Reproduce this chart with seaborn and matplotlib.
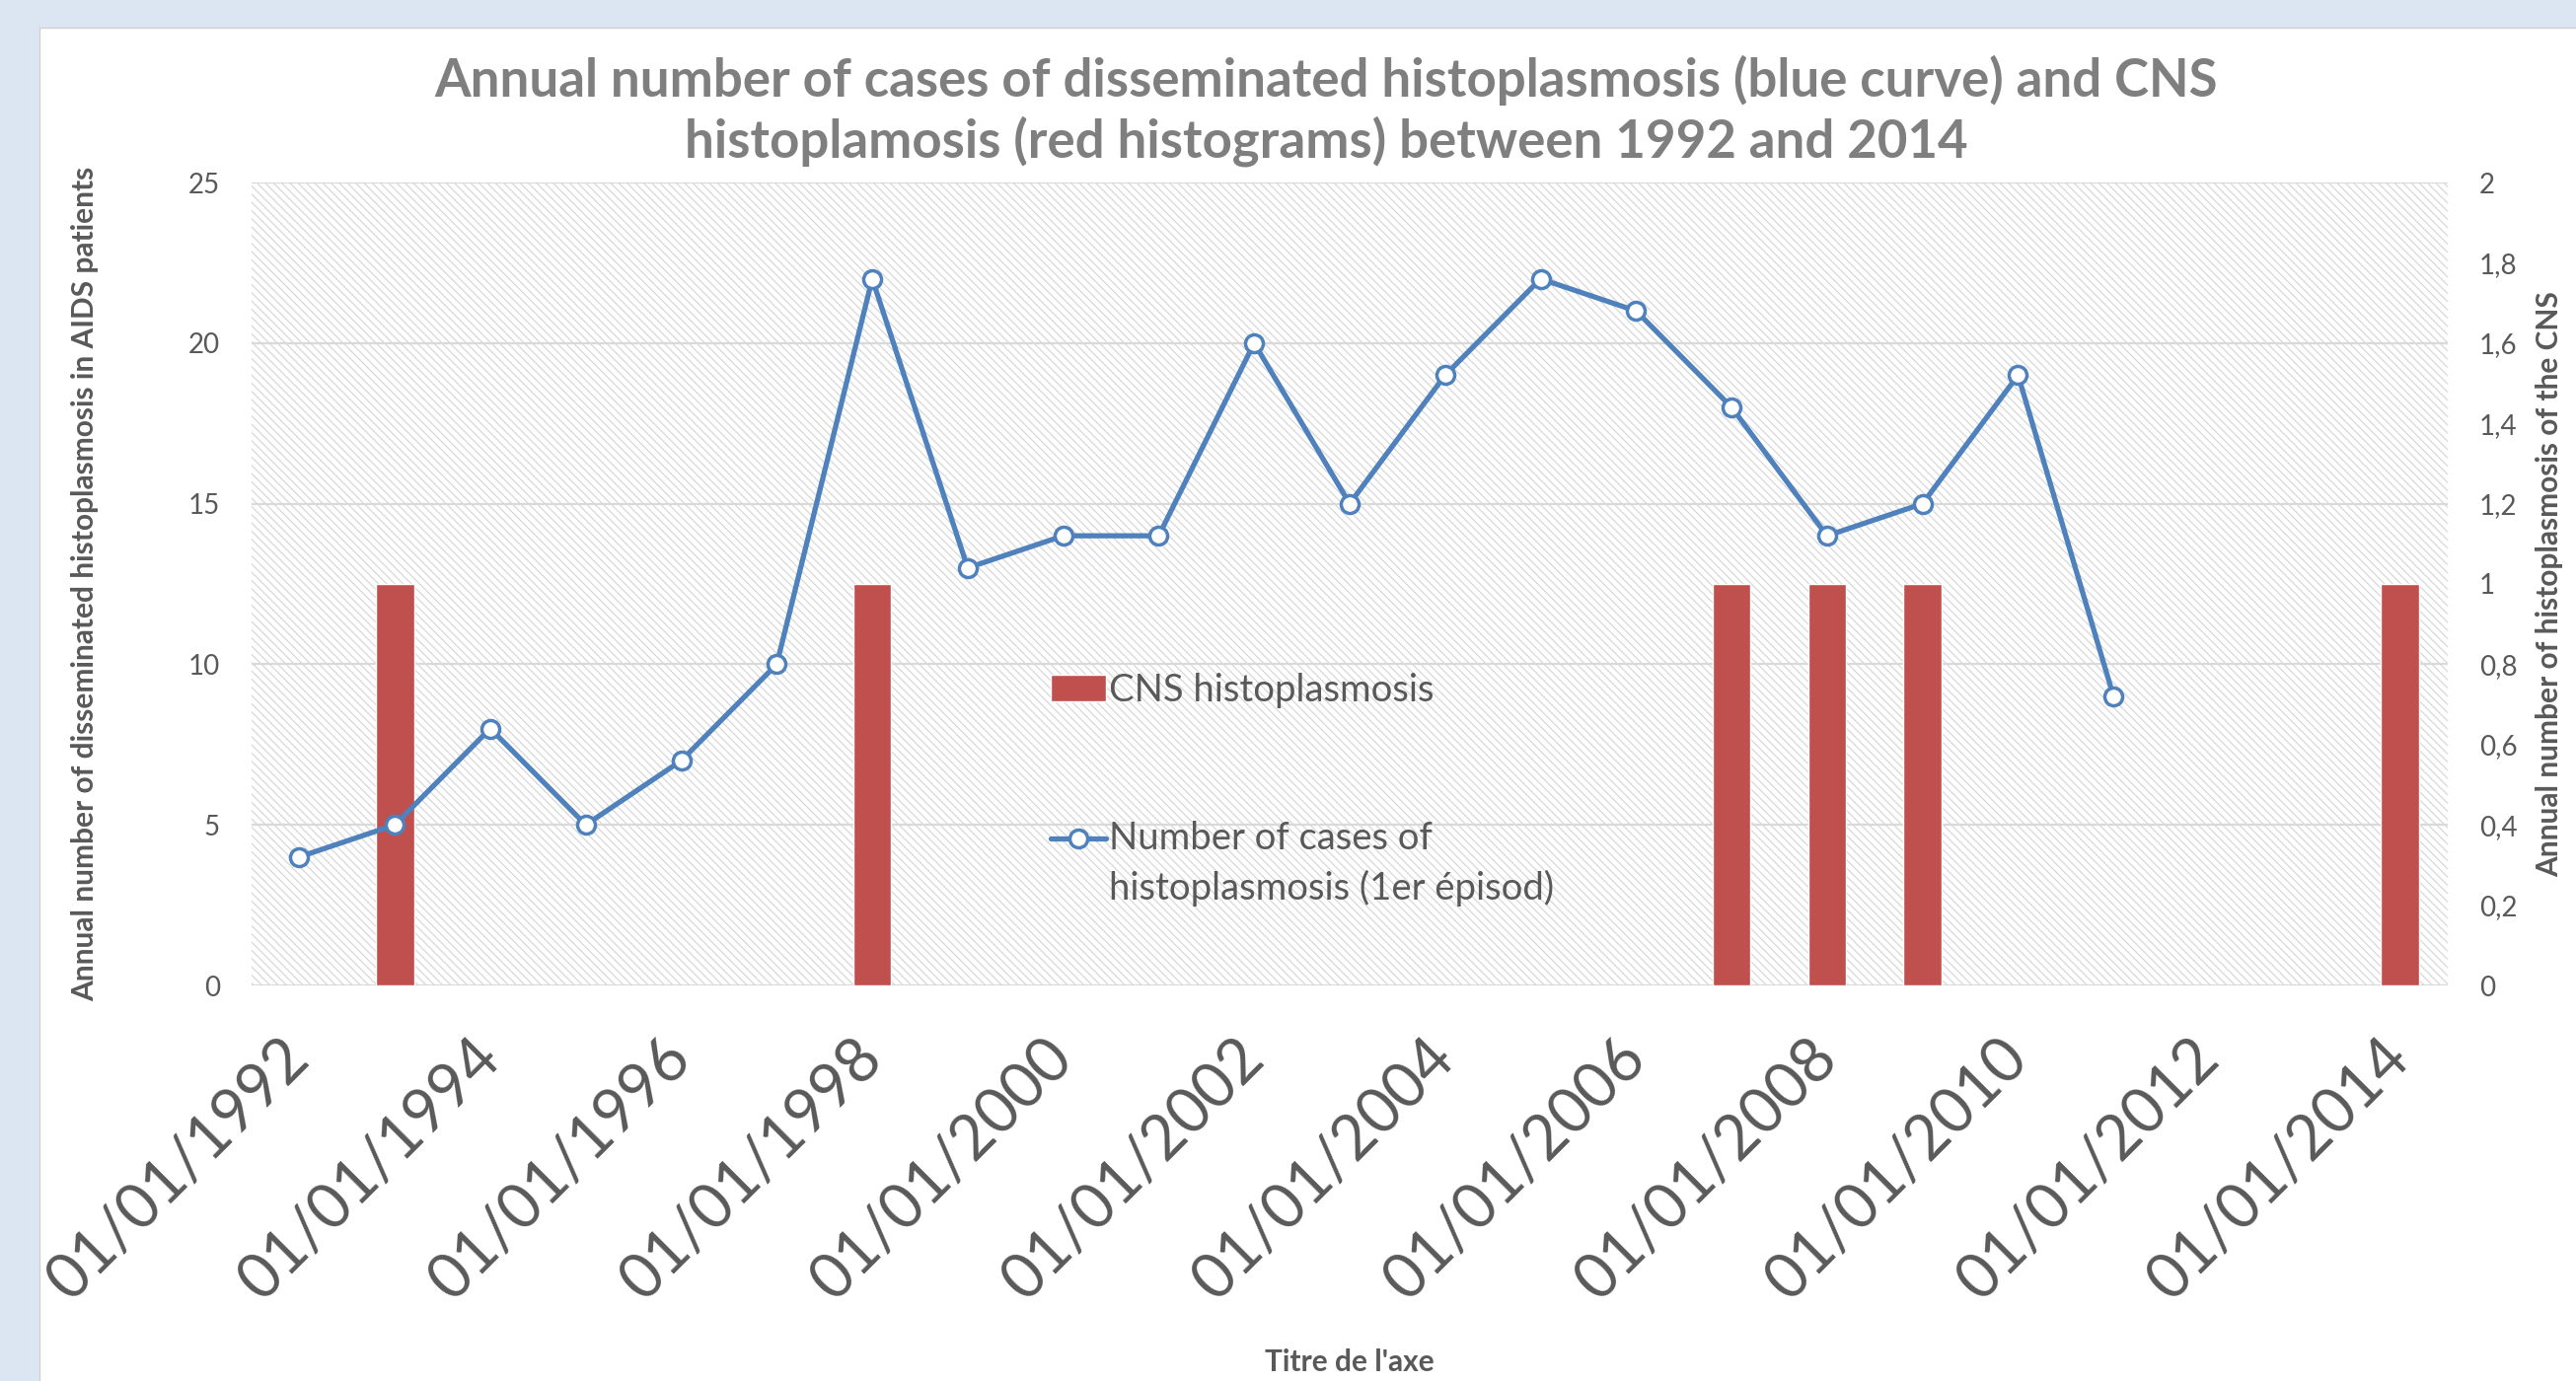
import matplotlib
matplotlib.use("Agg")
import matplotlib.pyplot as plt
from matplotlib.patches import Rectangle
from matplotlib.ticker import MultipleLocator, FuncFormatter
import numpy as np
import seaborn as sns

# values
case_years = list(range(1992, 2012))
cases = [4, 5, 8, 5, 7, 10, 22, 13, 14, 14, 20, 15, 19, 22, 21, 18, 14, 15, 19, 9]
cns_years = [1993, 1998, 2007, 2008, 2009, 2014]
cns_cases = [1, 1, 1, 1, 1, 1]
tick_years = list(range(1992, 2015, 2))
tick_labels = [f"01/01/{y}" for y in tick_years]

title = ("Annual number of cases of disseminated histoplasmosis (blue curve) and CNS\n"
         "histoplamosis (red histograms) between 1992 and 2014")
left_label = "Annual number of disseminated histoplasmosis in AIDS patients"
right_label = "Annual number of histoplasmosis of the CNS"
bottom_label = "Titre de l'axe"
cns_name = "CNS histoplasmosis"
cases_name = "Number of cases of\nhistoplasmosis (1er épisod)"

BLUE = "#4f81bd"
RED = "#c0504d"
TXT = "#595959"
GRID = "#d9d9d9"

sns.set_style("white")
plt.rcParams["font.family"] = ["Lato", "DejaVu Sans"]
plt.rcParams["hatch.color"] = "#d4d4d4"
plt.rcParams["hatch.linewidth"] = 0.8

W, H = 2611, 1400
fig = plt.figure(figsize=(W / 100, H / 100), dpi=100)
fig.patch.set_facecolor("#dce6f2")
fig.add_artist(Rectangle((40 / W, -0.01), 1.0, 1 - 28 / H + 0.01, transform=fig.transFigure,
                         facecolor="white", edgecolor="#d0d0d0", lw=1, zorder=-10))

ax_bar = fig.add_axes([255 / W, 1 - 999 / H, (2481 - 255) / W, (999 - 185) / H])
ax_bar.patch.set_facecolor("white")
ax_bar.patch.set_hatch("\\" * 4)
ax_bar.patch.set_edgecolor("#d4d4d4")
ax_bar.patch.set_linewidth(0)

# red histograms (right axis)
sns.barplot(x=cns_years, y=cns_cases, native_scale=True, width=0.4, color=RED,
            saturation=1, errorbar=None, ax=ax_bar, label=cns_name, zorder=3)

# blue curve (left axis), drawn on the twin so it sits above the bars
ax_line = ax_bar.twinx()
sns.lineplot(x=case_years, y=cases, ax=ax_line, color=BLUE, lw=3.8, marker="o",
             markersize=13, markerfacecolor="white", markeredgecolor=BLUE,
             markeredgewidth=2.5, label=cases_name)

for a in (ax_bar, ax_line):
    if a.get_legend() is not None:
        a.get_legend().remove()
    for s in a.spines.values():
        s.set_visible(False)

# axis sides: line axis on the left, bar axis on the right
ax_line.yaxis.tick_left()
ax_line.yaxis.set_label_position("left")
ax_bar.yaxis.tick_right()
ax_bar.yaxis.set_label_position("right")

ax_bar.set_xlim(1991.5, 2014.5)
ax_line.set_ylim(0, 25)
ax_line.set_yticks(range(0, 26, 5))
ax_bar.set_ylim(0, 2)
ax_bar.yaxis.set_major_locator(MultipleLocator(0.2))
ax_bar.yaxis.set_major_formatter(FuncFormatter(lambda v, _: f"{round(v, 1):g}".replace(".", ",")))

# gridlines follow the left axis steps (every 0.4 on the right axis)
ax_bar.yaxis.remove_overlapping_locs = False
ax_bar.yaxis.set_minor_locator(MultipleLocator(0.4))
ax_bar.grid(False, which="major")
ax_bar.grid(True, which="minor", axis="y", color=GRID, lw=1.6)
ax_bar.set_axisbelow(True)
ax_line.grid(False)

ax_bar.tick_params(axis="y", which="both", length=0, labelsize=20, labelcolor=TXT, pad=23)
ax_line.tick_params(axis="y", length=0, labelsize=20, labelcolor=TXT, pad=23)

ax_bar.set_xticks(tick_years, tick_labels, rotation=45, ha="right", va="center",
                  rotation_mode="anchor", fontsize=45, color=TXT)
ax_bar.tick_params(axis="x", length=0, pad=46)

ax_line.set_ylabel(left_label, fontsize=21.5, fontweight="bold", color=TXT)
ax_line.yaxis.set_label_coords(-0.0696, 0.5)
ax_bar.set_ylabel(right_label, fontsize=21.5, fontweight="bold", color=TXT)
ax_bar.yaxis.set_label_coords(1.040, 0.5)
ax_bar.set_xlabel(bottom_label, fontsize=21.5, fontweight="bold", color=TXT)
ax_bar.xaxis.set_label_coords(0.5, -0.452)

h1, l1 = ax_bar.get_legend_handles_labels()
h2, l2 = ax_line.get_legend_handles_labels()
leg = ax_line.legend(h1 + h2, l1 + l2, loc="upper left", bbox_to_anchor=(0.364, 0.390),
                     frameon=False, fontsize=27.5, labelspacing=3.0, handlelength=1.45,
                     handletextpad=0.1, borderpad=0, borderaxespad=0, labelcolor=TXT)
for t in leg.get_texts():
    t.set_linespacing(1.45)
# line handle sits level with the first line of its two-line label
line_handle = leg.legend_handles[1]
line_handle.set_ydata(np.asarray(line_handle.get_ydata()) + 19)

fig.text(1344 / W, 1 - 56 / H, title, ha="center", va="top", fontsize=38,
         fontweight="bold", color="#7f7f7f", linespacing=1.25)

fig.savefig("out.png", dpi=100, facecolor=fig.get_facecolor())
